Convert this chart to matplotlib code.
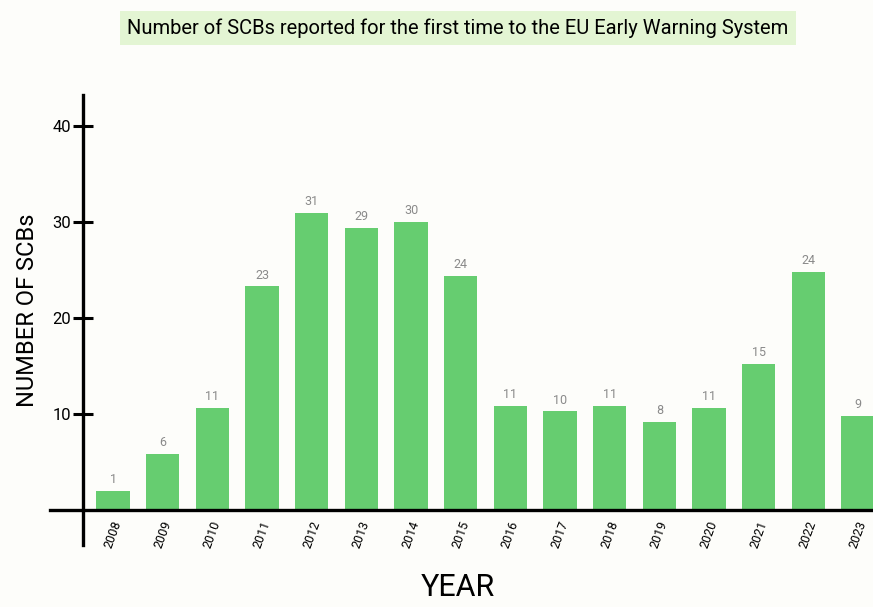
import numpy as np
import matplotlib
matplotlib.use('Agg')
import matplotlib.pyplot as plt

plt.rcParams['font.family'] = ['Roboto', 'DejaVu Sans']

years = ['2008', '2009', '2010', '2011', '2012', '2013', '2014', '2015',
         '2016', '2017', '2018', '2019', '2020', '2021', '2022', '2023']
counts = [1, 6, 11, 23, 31, 29, 30, 24, 11, 10, 11, 8, 11, 15, 24, 9]
# bar tops as drawn in the picture (hand drawn, a little off the labels)
bar_heights = [2.0, 5.9, 10.7, 23.3, 30.9, 29.4, 30.0, 24.4,
               10.9, 10.3, 10.9, 9.2, 10.7, 15.2, 24.8, 9.8]

fig = plt.figure(figsize=(8.73, 6.07), dpi=100)
fig.patch.set_facecolor('#fdfdfa')
ax = fig.add_axes([50/873, 1-545/607, 1-50/873, (545-95)/607])
ax.set_facecolor('none')

x = np.arange(len(years))
ax.bar(x, bar_heights, width=0.67, color='#66cd70', zorder=2)

for k in range(len(counts)):
    ax.text(x[k], bar_heights[k] + 0.5, str(counts[k]), ha='center', va='bottom',
            size=9, color='#8a8a8a')

ax.set_xlim(-1.27, 15.3)
ax.set_ylim(-3.6, 43.2)

for s in ['top', 'right']:
    ax.spines[s].set_visible(False)
ax.spines['left'].set_position(('data', -0.6))
ax.spines['bottom'].set_position(('data', 0))
ax.spines['left'].set_linewidth(2.4)
ax.spines['bottom'].set_linewidth(2.4)
ax.spines['left'].set_zorder(3)
ax.spines['bottom'].set_zorder(3)

ax.set_yticks([10, 20, 30, 40])
ax.set_yticklabels(['10', '20', '30', '40'], fontsize=12)
ax.tick_params(axis='y', direction='inout', length=14, width=2.2, pad=2)
ax.set_xticks(x)
ax.set_xticklabels(years, rotation=70, fontsize=9, ha='center', va='top')
ax.tick_params(axis='x', length=0, pad=6)

fig.text(28/873, 1-310/607, 'NUMBER OF SCBs', rotation=90, ha='center', va='center',
         fontsize=17)
fig.text(458/873, 1-588/607, 'YEAR', ha='center', va='center', fontsize=22)
fig.text(458/873, 1-28/607,
         'Number of SCBs reported for the first time to the EU Early Warning System',
         ha='center', va='center', fontsize=14.5,
         bbox=dict(boxstyle='square,pad=0.35', facecolor='#e3f5d3', edgecolor='none'))

plt.savefig('out.png', dpi=100, facecolor=fig.get_facecolor())
